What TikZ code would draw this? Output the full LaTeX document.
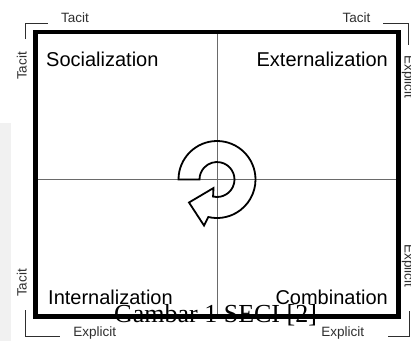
\documentclass[tikz,border=0pt]{standalone}
\usepackage{fontspec}
\setmainfont{Liberation Sans}
\newfontfamily\capfont{Liberation Serif}
\definecolor{stripgray}{HTML}{F1F1F1}
\definecolor{labelgray}{HTML}{2E2E2E}
\definecolor{crossgray}{HTML}{6A6A6A}
\begin{document}
\begin{tikzpicture}[x=1pt,y=-1pt,
  quad/.style={font=\fontsize{20}{24}\selectfont, text=black, inner sep=0pt},
  side/.style={font=\fontsize{13.5}{16}\selectfont, text=labelgray, inner sep=0pt},
  brk/.style={draw=labelgray, line width=0.9pt},
  frame/.style={draw=black, line width=4.5pt},
  cross/.style={draw=crossgray, line width=1pt},
  cycarrow/.style={draw=black, line width=1.8pt, line join=miter}]
\useasboundingbox (0,0) rectangle (411,341);
\fill[stripgray] (0,123) rectangle (11,341);
% frame and cross
\coordinate (nw) at (35.5,32);
\coordinate (se) at (398.5,316.5);
\coordinate (tm) at (217,32);
\coordinate (bm) at (217,316.5);
\coordinate (lm) at (35.5,179.5);
\coordinate (rm) at (398.5,179.5);
\draw[cross] (tm) -- (bm);
\draw[cross] (lm) -- (rm);
\draw[frame] (nw) rectangle (se);
% circular arrow
\draw[cycarrow] (178.5,179.5) arc[start angle=180, end angle=-103, radius=38.5pt]
  -- (204,225.5) -- (189,202.5) -- (213.5,188) -- (213.06,196.55)
  arc[start angle=-103, end angle=180, radius=17.5pt] -- cycle;
% quadrant labels
\node[quad, anchor=base west] (soc) at (46,66.5) {Socialization};
\node[quad, anchor=base east] (ext) at (388,66.5) {Externalization};
\node[quad, anchor=base west] (int) at (48,304) {Internalization};
\node[quad, anchor=base east] (com) at (388,304) {Combination};
% side labels
\node[side, anchor=base] (tt1) at (75,22.5) {Tacit};
\node[side, anchor=base] (tt2) at (356.5,22.5) {Tacit};
\node[side, anchor=base] (be1) at (94.7,336.4) {Explicit};
\node[side, anchor=base] (be2) at (342.8,336.4) {Explicit};
\node[side, anchor=base, rotate=90] (lt1) at (26.5,66) {Tacit};
\node[side, anchor=base, rotate=90] (lt2) at (26.5,283) {Tacit};
\node[side, anchor=base, rotate=-90] (re1) at (404.5,77) {Explicit};
\node[side, anchor=base, rotate=-90] (re2) at (404.5,266) {Explicit};
% brackets
\coordinate (b1a) at (25,39);  \coordinate (b1b) at (25,23);  \coordinate (b1c) at (48,23);
\coordinate (b2a) at (383,23); \coordinate (b2b) at (408,23); \coordinate (b2c) at (408,45);
\coordinate (b3a) at (25,310); \coordinate (b3b) at (25,336); \coordinate (b3c) at (60,336);
\coordinate (b4a) at (388,336);\coordinate (b4b) at (409,336);\coordinate (b4c) at (409,311);
\draw[brk] (b1a) -- (b1b) -- (b1c);
\draw[brk] (b2a) -- (b2b) -- (b2c);
\draw[brk] (b3a) -- (b3b) -- (b3c);
\draw[brk] (b4a) -- (b4b) -- (b4c);
% caption
\node[font=\capfont\fontsize{26}{30}\selectfont, text=black, anchor=base, inner sep=0pt] (cap) at (215.5,322) {Gambar 1 SECI [2]};
\end{tikzpicture}
\end{document}
